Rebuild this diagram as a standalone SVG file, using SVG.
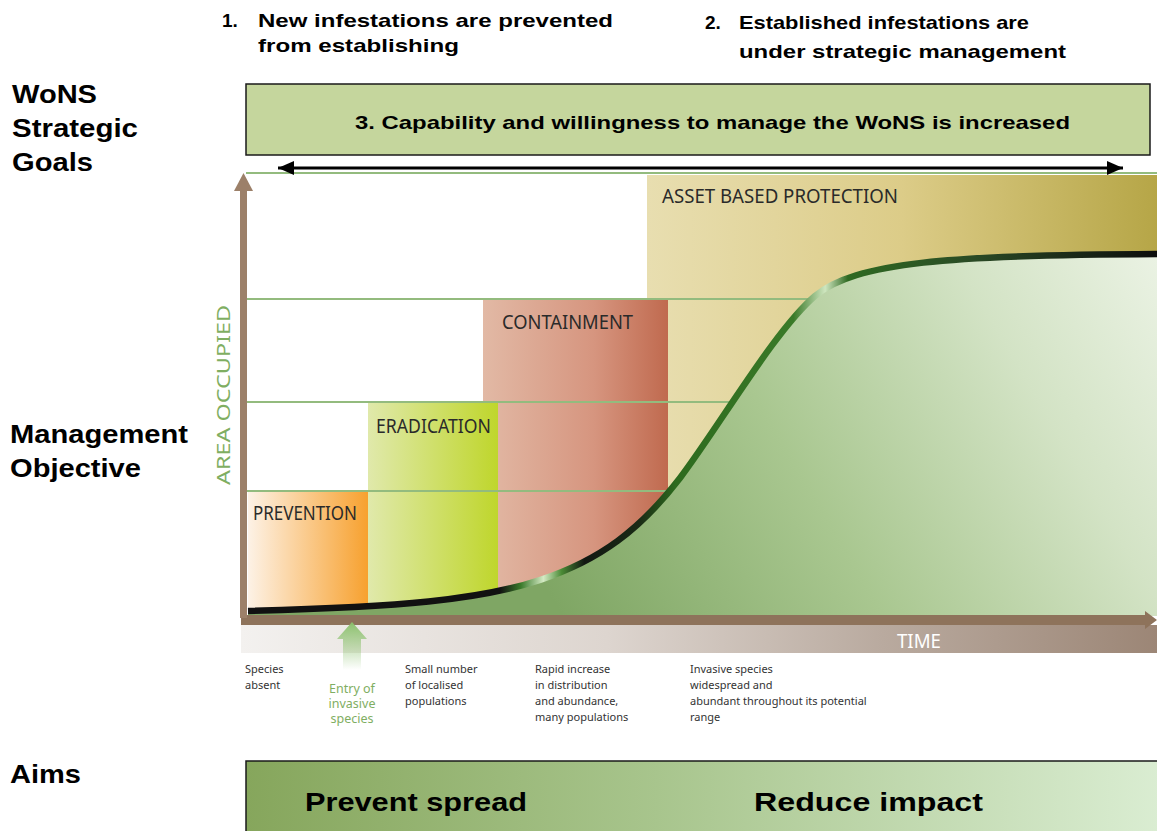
<svg xmlns="http://www.w3.org/2000/svg" width="1157" height="831" viewBox="0 0 1157 831">
<style>
.hd{font-family:"Liberation Sans",Arial,sans-serif;font-weight:bold;fill:#000}
.side{font-family:"Liberation Sans",Arial,sans-serif;font-weight:bold;font-size:25px;fill:#000}
.cat{font-family:"Noto Sans","Open Sans",sans-serif;font-size:19px;fill:#2a2a2a}
.sm{font-family:"Noto Sans","Open Sans",sans-serif;font-size:11px;fill:#333}
.en{font-family:"Noto Sans","Open Sans",sans-serif;font-size:12.5px;fill:#7fae62}
.gl{stroke:#93bb7e;stroke-width:2;fill:none}
</style>
<defs>
<linearGradient id="gPrev" x1="0" y1="0" x2="1" y2="0"><stop offset="0" stop-color="#fdf2e6"/><stop offset="1" stop-color="#f7a12f"/></linearGradient>
<linearGradient id="gErad" x1="0" y1="0" x2="1" y2="0"><stop offset="0" stop-color="#e0e9ab"/><stop offset="1" stop-color="#bfd62c"/></linearGradient>
<linearGradient id="gCont" x1="0" y1="0" x2="1" y2="0"><stop offset="0" stop-color="#e2b9a5"/><stop offset="0.6" stop-color="#d6957f"/><stop offset="1" stop-color="#c06a4f"/></linearGradient>
<linearGradient id="gAsset" x1="0" y1="0" x2="1" y2="0"><stop offset="0" stop-color="#e8deb0"/><stop offset="0.5" stop-color="#dccc88"/><stop offset="1" stop-color="#b6a647"/></linearGradient>
<linearGradient id="gFill" gradientUnits="userSpaceOnUse" x1="560" y1="612" x2="1157" y2="260"><stop offset="0" stop-color="#7fa664"/><stop offset="0.4" stop-color="#a9c790"/><stop offset="0.75" stop-color="#d3e3c5"/><stop offset="1" stop-color="#eaf2e3"/></linearGradient>
<linearGradient id="gCurve" gradientUnits="userSpaceOnUse" x1="248" y1="0" x2="1157" y2="0">
<stop offset="0" stop-color="#111"/><stop offset="0.277" stop-color="#111"/><stop offset="0.30" stop-color="#3a7a2a"/><stop offset="0.325" stop-color="#d4eac4"/><stop offset="0.345" stop-color="#4a8a35"/><stop offset="0.37" stop-color="#121812"/><stop offset="0.43" stop-color="#1a2a15"/><stop offset="0.47" stop-color="#2d6a1e"/><stop offset="0.6" stop-color="#3a7a28"/><stop offset="0.635" stop-color="#cfe6bf"/><stop offset="0.66" stop-color="#2f6a22"/><stop offset="0.8" stop-color="#2a4a25"/><stop offset="1" stop-color="#0d0d0d"/></linearGradient>
<linearGradient id="gTime" x1="0" y1="0" x2="1" y2="0"><stop offset="0" stop-color="#f3f1ef"/><stop offset="0.4" stop-color="#ddd5cf"/><stop offset="0.7" stop-color="#b9aa9f"/><stop offset="1" stop-color="#9c8676"/></linearGradient>
<linearGradient id="gEntry" x1="0" y1="0" x2="0" y2="1"><stop offset="0" stop-color="#8cc26e"/><stop offset="1" stop-color="#8cc26e" stop-opacity="0"/></linearGradient>
<linearGradient id="gAims" x1="0" y1="0" x2="1" y2="0"><stop offset="0" stop-color="#86a65c"/><stop offset="0.45" stop-color="#a8c58d"/><stop offset="1" stop-color="#daedd2"/></linearGradient>
<marker id="ah" viewBox="0 0 16 14" refX="16" refY="7" markerWidth="16" markerHeight="14" markerUnits="userSpaceOnUse" orient="auto-start-reverse"><path d="M0,0 L16,7 L0,14 Z" fill="#000"/></marker>
<clipPath id="clipTop"><rect x="0" y="0" width="1157" height="62"/></clipPath>
</defs>
<rect width="1157" height="831" fill="#fff"/>

<g id="side-labels">
<text class="side" x="12" y="103" textLength="85" lengthAdjust="spacingAndGlyphs">WoNS</text>
<text class="side" x="12" y="137" textLength="126" lengthAdjust="spacingAndGlyphs">Strategic</text>
<text class="side" x="12" y="171" textLength="81" lengthAdjust="spacingAndGlyphs">Goals</text>
<text class="side" x="10" y="443" textLength="178" lengthAdjust="spacingAndGlyphs">Management</text>
<text class="side" x="10" y="477" textLength="131" lengthAdjust="spacingAndGlyphs">Objective</text>
<text class="side" x="10" y="783" textLength="71" lengthAdjust="spacingAndGlyphs">Aims</text>
</g>

<g id="goal1">
<text class="hd" font-size="19" x="222" y="27">1.</text>
<text class="hd" font-size="19" x="258" y="27" textLength="355" lengthAdjust="spacingAndGlyphs">New infestations are prevented</text>
<text class="hd" font-size="19" x="258" y="52" textLength="201" lengthAdjust="spacingAndGlyphs">from establishing</text>
</g>
<g id="goal2">
<text class="hd" font-size="19" x="705" y="29">2.</text>
<text class="hd" font-size="19" x="739" y="29" textLength="290" lengthAdjust="spacingAndGlyphs">Established infestations are</text>
<text class="hd" font-size="19" x="739" y="58" textLength="327" lengthAdjust="spacingAndGlyphs" clip-path="url(#clipTop)">under strategic management</text>
</g>
<g id="goal3">
<rect x="246" y="84" width="904" height="71" fill="#c5d69d" stroke="#1a1a1a" stroke-width="1.5"/>
<text class="hd" font-size="19" x="355" y="129" textLength="715" lengthAdjust="spacingAndGlyphs">3. Capability and willingness to manage the WoNS is increased</text>
</g>

<g id="chart">
<line x1="246" y1="173" x2="1157" y2="173" class="gl"/>
<g id="asset"><rect x="647" y="175" width="510" height="440" fill="url(#gAsset)"/></g>
<g id="containment"><rect x="483" y="299" width="185" height="316" fill="url(#gCont)"/></g>
<g id="eradication"><rect x="368" y="402" width="130" height="213" fill="url(#gErad)"/></g>
<g id="prevention"><rect x="248" y="491" width="120" height="124" fill="url(#gPrev)"/></g>
<line x1="246" y1="299" x2="1157" y2="299" class="gl"/>
<line x1="246" y1="402" x2="1157" y2="402" class="gl"/>
<line x1="246" y1="491" x2="1157" y2="491" class="gl"/>
<path d="M248,611 C400,607 480,600 540,580 C600,560 640,530 680,478 C720,425 775,330 815,296 C855,262 950,255 1157,254 L1157,616 L248,616 Z" fill="url(#gFill)"/>
<path d="M248,611 C400,607 480,600 540,580 C600,560 640,530 680,478 C720,425 775,330 815,296 C855,262 950,255 1157,254" fill="none" stroke="url(#gCurve)" stroke-width="6.5"/>
<text class="cat" x="253" y="520" textLength="104" lengthAdjust="spacingAndGlyphs">PREVENTION</text>
<text class="cat" x="376" y="433" textLength="115" lengthAdjust="spacingAndGlyphs">ERADICATION</text>
<text class="cat" x="502" y="329" textLength="131" lengthAdjust="spacingAndGlyphs">CONTAINMENT</text>
<text class="cat" x="662" y="203" textLength="236" lengthAdjust="spacingAndGlyphs">ASSET BASED PROTECTION</text>
<rect x="241" y="625" width="916" height="28" fill="url(#gTime)"/>
<rect x="241" y="615" width="906" height="10" fill="#8e735b"/>
<path d="M1145,611 L1157,620 L1145,629 Z" fill="#8e735b"/>
<rect x="240" y="188" width="7" height="430" fill="#9c8069"/>
<path d="M234,191 L243.5,173 L253,191 Z" fill="#9c8069"/>
<text x="230" y="395" transform="rotate(-90 230 395)" text-anchor="middle" font-family="Noto Sans, Open Sans, sans-serif" font-size="18" fill="#7fae62" textLength="180" lengthAdjust="spacingAndGlyphs">AREA OCCUPIED</text>
<text x="897" y="648" font-family="Noto Sans, Open Sans, sans-serif" font-size="19" fill="#fff" textLength="44" lengthAdjust="spacingAndGlyphs">TIME</text>
</g>

<g id="entry">
<path d="M352,622 L337,639 L343,639 L343,670 L361,670 L361,639 L367,639 Z" fill="url(#gEntry)"/>
<text class="en" x="352" y="693" text-anchor="middle">Entry of</text>
<text class="en" x="352" y="708" text-anchor="middle">invasive</text>
<text class="en" x="352" y="723" text-anchor="middle">species</text>
</g>

<g id="stage-labels">
<text class="sm" x="245" y="673">Species</text>
<text class="sm" x="245" y="689">absent</text>
<text class="sm" x="405" y="673">Small number</text>
<text class="sm" x="405" y="689">of localised</text>
<text class="sm" x="405" y="705">populations</text>
<text class="sm" x="535" y="673">Rapid increase</text>
<text class="sm" x="535" y="689">in distribution</text>
<text class="sm" x="535" y="705">and abundance,</text>
<text class="sm" x="535" y="721">many populations</text>
<text class="sm" x="690" y="673">Invasive species</text>
<text class="sm" x="690" y="689">widespread and</text>
<text class="sm" x="690" y="705">abundant throughout its potential</text>
<text class="sm" x="690" y="721">range</text>
</g>

<g id="connectors">
<line x1="278" y1="168" x2="1123" y2="168" stroke="#000" stroke-width="3" marker-start="url(#ah)" marker-end="url(#ah)"/>
</g>

<g id="aims">
<rect x="246" y="761" width="915" height="75" fill="url(#gAims)" stroke="#1a1a1a" stroke-width="1.5"/>
<text class="hd" font-size="26" x="305" y="811" textLength="222" lengthAdjust="spacingAndGlyphs">Prevent spread</text>
<text class="hd" font-size="26" x="754" y="811" textLength="229" lengthAdjust="spacingAndGlyphs">Reduce impact</text>
</g>
</svg>
